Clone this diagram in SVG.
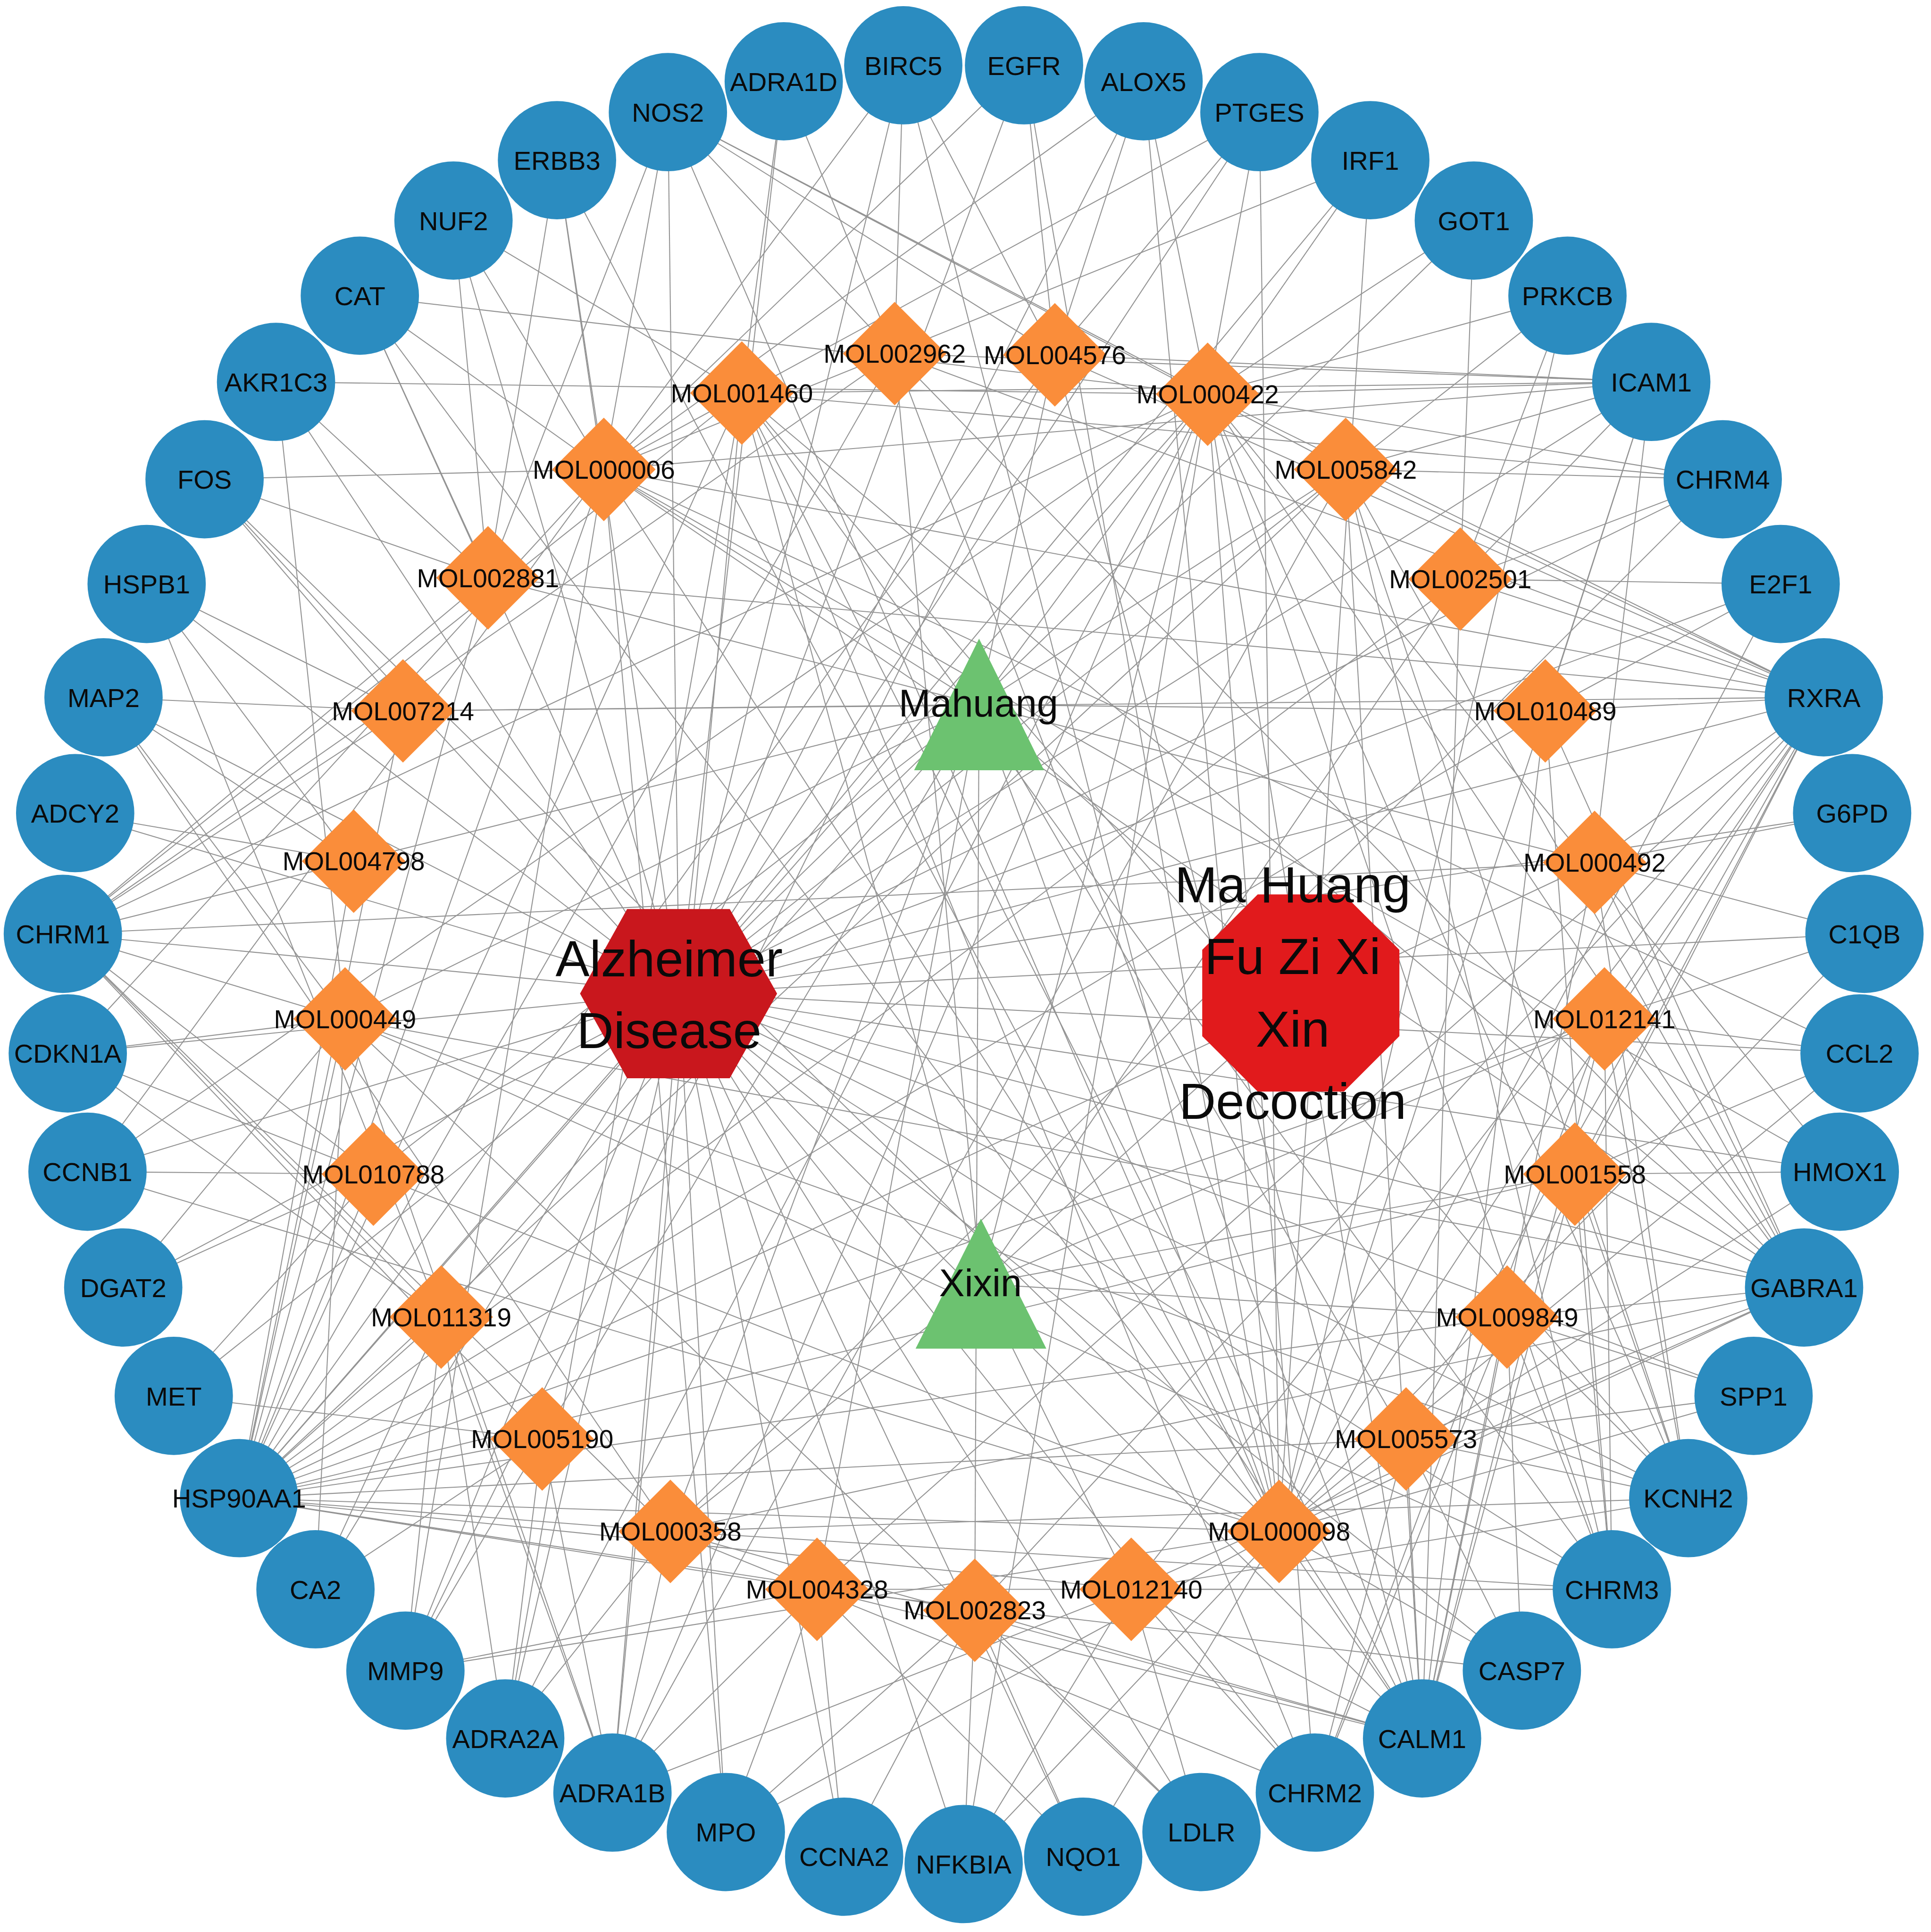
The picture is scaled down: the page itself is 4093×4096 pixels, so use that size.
<svg xmlns="http://www.w3.org/2000/svg" width="4093" height="4096" viewBox="0 0 4093 4096">
<style>
.e path{stroke:#939393;stroke-width:0.8;fill:none}
.t circle{fill:#2B8CC0}
.d polygon{fill:#FA8D3A}
.h polygon{fill:#6CC270}
text{font-family:"Liberation Sans",Arial,Helvetica,sans-serif;text-anchor:middle;fill:#0a0a0a}
.t text{font-size:21.5px}
.d text{font-size:21px}
.h text{font-size:31px}
.b text{font-size:41.5px}
</style>
<rect width="4093" height="4096" fill="#ffffff"/>
<g transform="scale(2.612)">
<g id="edges" class="e">
<path d="M551 806L782 1513"/><path d="M551 806L685 1507"/><path d="M551 806L589 1487"/><path d="M551 806L497 1455"/><path d="M551 806L410 1411"/><path d="M551 806L329 1356"/><path d="M551 806L256 1290"/><path d="M551 806L194 1216"/><path d="M551 806L141 1133"/><path d="M551 806L100 1045"/><path d="M551 806L71 951"/><path d="M551 806L55 855"/><path d="M551 806L51 758"/><path d="M551 806L61 660"/><path d="M551 806L84 566"/><path d="M551 806L119 474"/><path d="M551 806L166 389"/><path d="M551 806L224 310"/><path d="M551 806L292 240"/><path d="M551 806L368 179"/><path d="M551 806L452 130"/><path d="M551 806L542 91"/><path d="M551 806L636 66"/><path d="M551 806L733 53"/><path d="M551 806L831 53"/><path d="M551 806L928 66"/><path d="M551 806L1022 91"/><path d="M551 806L1112 130"/><path d="M551 806L1196 179"/><path d="M551 806L1272 240"/><path d="M551 806L1340 310"/><path d="M551 806L1398 389"/><path d="M551 806L1445 474"/><path d="M551 806L1480 566"/><path d="M551 806L1503 660"/><path d="M551 806L1513 758"/><path d="M551 806L1509 855"/><path d="M551 806L1493 951"/><path d="M551 806L1464 1045"/><path d="M551 806L1423 1133"/><path d="M551 806L1370 1216"/><path d="M551 806L1308 1290"/><path d="M551 806L1235 1356"/><path d="M551 806L1154 1411"/><path d="M551 806L1067 1455"/><path d="M551 806L975 1487"/><path d="M551 806L879 1507"/>
<path d="M1056 806L794.5 572"/><path d="M1056 806L796 1042"/>
<path d="M794.5 572L490 381"/><path d="M794.5 572L1038 1243"/><path d="M794.5 572L544 1243"/><path d="M794.5 572L980 320"/><path d="M794.5 572L280 827"/><path d="M794.5 572L1294 700"/><path d="M794.5 572L791 1307"/><path d="M794.5 572L396 469"/><path d="M794.5 572L663 1290"/><path d="M794.5 572L856 288"/><path d="M794.5 572L287 699"/><path d="M794.5 572L440 1168"/><path d="M794.5 572L1141 1168"/><path d="M794.5 572L1092 381"/><path d="M794.5 572L327 577"/><path d="M794.5 572L1254 577"/><path d="M794.5 572L303 953"/><path d="M794.5 572L358 1069"/>
<path d="M796 1042L602 319"/><path d="M796 1042L1278 953"/><path d="M796 1042L1185 470"/><path d="M796 1042L726 287"/><path d="M796 1042L1223 1069"/><path d="M796 1042L918 1290"/><path d="M796 1042L1302 827"/><path d="M796 1042L544 1243"/><path d="M796 1042L980 320"/>
<path d="M1038 1243L542 91"/><path d="M1038 1243L733 53"/><path d="M1038 1243L831 53"/><path d="M1038 1243L928 66"/><path d="M1038 1243L1022 91"/><path d="M1038 1243L1112 130"/><path d="M1038 1243L1272 240"/><path d="M1038 1243L1340 310"/><path d="M1038 1243L1445 474"/><path d="M1038 1243L1480 566"/><path d="M1038 1243L1513 758"/><path d="M1038 1243L1509 855"/><path d="M1038 1243L1493 951"/><path d="M1038 1243L1464 1045"/><path d="M1038 1243L1423 1133"/><path d="M1038 1243L1235 1356"/><path d="M1038 1243L1154 1411"/><path d="M1038 1243L879 1507"/><path d="M1038 1243L782 1513"/><path d="M1038 1243L589 1487"/><path d="M1038 1243L329 1356"/><path d="M1038 1243L194 1216"/><path d="M1038 1243L71 951"/><path d="M1038 1243L55 855"/><path d="M1038 1243L166 389"/><path d="M1038 1243L292 240"/><path d="M1038 1243L452 130"/>
<path d="M980 320L542 91"/><path d="M980 320L928 66"/><path d="M980 320L1196 179"/><path d="M980 320L1340 310"/><path d="M980 320L1480 566"/><path d="M980 320L1493 951"/><path d="M980 320L1464 1045"/><path d="M980 320L1154 1411"/><path d="M980 320L51 758"/><path d="M980 320L497 1455"/><path d="M980 320L194 1216"/><path d="M980 320L224 310"/><path d="M980 320L292 240"/><path d="M980 320L1272 240"/><path d="M980 320L782 1513"/>
<path d="M980 320L1067 1455"/><path d="M980 320L1308 1290"/><path d="M980 320L1398 389"/><path d="M980 320L410 1411"/><path d="M980 320L1370 1216"/><path d="M980 320L1022 91"/><path d="M980 320L1112 130"/><path d="M980 320L71 951"/>
<path d="M490 381L452 130"/><path d="M490 381L368 179"/><path d="M490 381L831 53"/><path d="M490 381L1340 310"/><path d="M490 381L1480 566"/><path d="M490 381L1509 855"/><path d="M490 381L1493 951"/><path d="M490 381L329 1356"/><path d="M490 381L194 1216"/><path d="M490 381L71 951"/><path d="M490 381L55 855"/><path d="M490 381L166 389"/><path d="M490 381L292 240"/><path d="M490 381L542 91"/><path d="M490 381L589 1487"/>
<path d="M490 381L733 53"/><path d="M490 381L928 66"/><path d="M490 381L1154 1411"/><path d="M490 381L1464 1045"/><path d="M490 381L1112 130"/><path d="M490 381L1022 91"/>
<path d="M544 1243L51 758"/><path d="M544 1243L1067 1455"/><path d="M544 1243L1308 1290"/><path d="M544 1243L1398 389"/><path d="M544 1243L497 1455"/><path d="M544 1243L410 1411"/><path d="M544 1243L1464 1045"/><path d="M544 1243L1370 1216"/><path d="M544 1243L84 566"/><path d="M544 1243L194 1216"/><path d="M544 1243L1154 1411"/>
<path d="M280 827L497 1455"/><path d="M280 827L1464 1045"/><path d="M280 827L84 566"/><path d="M280 827L975 1487"/><path d="M280 827L100 1045"/><path d="M280 827L224 310"/><path d="M280 827L194 1216"/><path d="M280 827L51 758"/><path d="M280 827L55 855"/><path d="M280 827L1308 1290"/><path d="M280 827L1370 1216"/><path d="M280 827L256 1290"/>
<path d="M287 699L194 1216"/><path d="M287 699L61 660"/><path d="M287 699L51 758"/><path d="M287 699L84 566"/><path d="M287 699L119 474"/>
<path d="M327 577L194 1216"/><path d="M327 577L1480 566"/><path d="M327 577L84 566"/><path d="M327 577L119 474"/><path d="M327 577L51 758"/><path d="M327 577L166 389"/>
<path d="M396 469L542 91"/><path d="M396 469L224 310"/><path d="M396 469L194 1216"/><path d="M396 469L1480 566"/><path d="M396 469L292 240"/><path d="M396 469L166 389"/><path d="M396 469L368 179"/><path d="M396 469L51 758"/><path d="M396 469L452 130"/>
<path d="M602 319L636 66"/><path d="M602 319L51 758"/><path d="M602 319L1067 1455"/><path d="M602 319L1308 1290"/><path d="M602 319L1398 389"/><path d="M602 319L497 1455"/><path d="M602 319L410 1411"/><path d="M602 319L1370 1216"/><path d="M602 319L1464 1045"/><path d="M602 319L1154 1411"/><path d="M602 319L194 1216"/><path d="M602 319L1340 310"/><path d="M602 319L368 179"/>
<path d="M726 287L733 53"/><path d="M726 287L1340 310"/><path d="M726 287L194 1216"/><path d="M726 287L1154 1411"/><path d="M726 287L51 758"/><path d="M726 287L636 66"/><path d="M726 287L542 91"/><path d="M726 287L1480 566"/><path d="M726 287L1464 1045"/>
<path d="M856 288L1340 310"/><path d="M856 288L194 1216"/><path d="M856 288L928 66"/><path d="M856 288L542 91"/><path d="M856 288L831 53"/><path d="M856 288L329 1356"/><path d="M856 288L1154 1411"/><path d="M856 288L1480 566"/><path d="M856 288L1022 91"/><path d="M856 288L733 53"/>
<path d="M1092 381L1340 310"/><path d="M1092 381L1398 389"/><path d="M1092 381L1480 566"/><path d="M1092 381L1154 1411"/><path d="M1092 381L194 1216"/><path d="M1092 381L1464 1045"/><path d="M1092 381L1370 1216"/><path d="M1092 381L1308 1290"/><path d="M1092 381L497 1455"/><path d="M1092 381L542 91"/>
<path d="M1185 470L1480 566"/><path d="M1185 470L1445 474"/><path d="M1185 470L1154 1411"/><path d="M1185 470L1196 179"/><path d="M1185 470L194 1216"/><path d="M1185 470L1340 310"/><path d="M1185 470L1398 389"/><path d="M1185 470L1272 240"/>
<path d="M1254 577L1480 566"/><path d="M1254 577L1154 1411"/><path d="M1254 577L1445 474"/><path d="M1254 577L194 1216"/><path d="M1254 577L1464 1045"/><path d="M1254 577L1308 1290"/><path d="M1254 577L1340 310"/>
<path d="M1294 700L1480 566"/><path d="M1294 700L194 1216"/><path d="M1294 700L1503 660"/><path d="M1294 700L1513 758"/><path d="M1294 700L51 758"/><path d="M1294 700L1464 1045"/><path d="M1294 700L1154 1411"/><path d="M1294 700L1340 310"/><path d="M1294 700L1370 1216"/>
<path d="M1302 827L1308 1290"/><path d="M1302 827L1370 1216"/><path d="M1302 827L1154 1411"/><path d="M1302 827L1480 566"/><path d="M1302 827L194 1216"/><path d="M1302 827L1464 1045"/><path d="M1302 827L1509 855"/><path d="M1302 827L1513 758"/><path d="M1302 827L1067 1455"/>
<path d="M1278 953L1480 566"/><path d="M1278 953L1154 1411"/><path d="M1278 953L194 1216"/><path d="M1278 953L1493 951"/><path d="M1278 953L1464 1045"/><path d="M1278 953L1370 1216"/><path d="M1278 953L1308 1290"/><path d="M1278 953L1509 855"/>
<path d="M1223 1069L1370 1216"/><path d="M1223 1069L1154 1411"/><path d="M1223 1069L1480 566"/><path d="M1223 1069L194 1216"/><path d="M1223 1069L1464 1045"/><path d="M1223 1069L1308 1290"/><path d="M1223 1069L1235 1356"/><path d="M1223 1069L1423 1133"/><path d="M1223 1069L1067 1455"/>
<path d="M1141 1168L1480 566"/><path d="M1141 1168L1154 1411"/><path d="M1141 1168L194 1216"/><path d="M1141 1168L1464 1045"/><path d="M1141 1168L1370 1216"/><path d="M1141 1168L1067 1455"/><path d="M1141 1168L1235 1356"/><path d="M1141 1168L1423 1133"/>
<path d="M918 1290L1067 1455"/><path d="M918 1290L1154 1411"/><path d="M918 1290L194 1216"/><path d="M918 1290L497 1455"/><path d="M918 1290L1464 1045"/><path d="M918 1290L1480 566"/><path d="M918 1290L975 1487"/><path d="M918 1290L1308 1290"/><path d="M918 1290L1370 1216"/><path d="M918 1290L782 1513"/>
<path d="M791 1307L194 1216"/><path d="M791 1307L1480 566"/><path d="M791 1307L1154 1411"/><path d="M791 1307L685 1507"/><path d="M791 1307L782 1513"/><path d="M791 1307L879 1507"/><path d="M791 1307L975 1487"/><path d="M791 1307L589 1487"/>
<path d="M663 1290L194 1216"/><path d="M663 1290L1480 566"/><path d="M663 1290L497 1455"/><path d="M663 1290L685 1507"/><path d="M663 1290L1308 1290"/><path d="M663 1290L1154 1411"/><path d="M663 1290L879 1507"/><path d="M663 1290L329 1356"/><path d="M663 1290L589 1487"/><path d="M663 1290L1235 1356"/>
<path d="M440 1168L194 1216"/><path d="M440 1168L497 1455"/><path d="M440 1168L256 1290"/><path d="M440 1168L141 1133"/><path d="M440 1168L51 758"/><path d="M440 1168L410 1411"/><path d="M440 1168L329 1356"/>
<path d="M358 1069L194 1216"/><path d="M358 1069L51 758"/><path d="M358 1069L410 1411"/><path d="M358 1069L256 1290"/><path d="M358 1069L119 474"/><path d="M358 1069L329 1356"/><path d="M358 1069L55 855"/><path d="M358 1069L497 1455"/>
<path d="M303 953L194 1216"/><path d="M303 953L100 1045"/><path d="M303 953L71 951"/><path d="M303 953L141 1133"/><path d="M303 953L51 758"/>
</g>
<g id="nodes">
<g id="t-NFKBIA" class="t" transform="translate(782,1513)"><circle r="48"/><text y="7.7">NFKBIA</text></g>
<g id="t-CCNA2" class="t" transform="translate(685,1507)"><circle r="48"/><text y="7.7">CCNA2</text></g>
<g id="t-MPO" class="t" transform="translate(589,1487)"><circle r="48"/><text y="7.7">MPO</text></g>
<g id="t-ADRA1B" class="t" transform="translate(497,1455)"><circle r="48"/><text y="7.7">ADRA1B</text></g>
<g id="t-ADRA2A" class="t" transform="translate(410,1411)"><circle r="48"/><text y="7.7">ADRA2A</text></g>
<g id="t-MMP9" class="t" transform="translate(329,1356)"><circle r="48"/><text y="7.7">MMP9</text></g>
<g id="t-CA2" class="t" transform="translate(256,1290)"><circle r="48"/><text y="7.7">CA2</text></g>
<g id="t-HSP90AA1" class="t" transform="translate(194,1216)"><circle r="48"/><text y="7.7">HSP90AA1</text></g>
<g id="t-MET" class="t" transform="translate(141,1133)"><circle r="48"/><text y="7.7">MET</text></g>
<g id="t-DGAT2" class="t" transform="translate(100,1045)"><circle r="48"/><text y="7.7">DGAT2</text></g>
<g id="t-CCNB1" class="t" transform="translate(71,951)"><circle r="48"/><text y="7.7">CCNB1</text></g>
<g id="t-CDKN1A" class="t" transform="translate(55,855)"><circle r="48"/><text y="7.7">CDKN1A</text></g>
<g id="t-CHRM1" class="t" transform="translate(51,758)"><circle r="48"/><text y="7.7">CHRM1</text></g>
<g id="t-ADCY2" class="t" transform="translate(61,660)"><circle r="48"/><text y="7.7">ADCY2</text></g>
<g id="t-MAP2" class="t" transform="translate(84,566)"><circle r="48"/><text y="7.7">MAP2</text></g>
<g id="t-HSPB1" class="t" transform="translate(119,474)"><circle r="48"/><text y="7.7">HSPB1</text></g>
<g id="t-FOS" class="t" transform="translate(166,389)"><circle r="48"/><text y="7.7">FOS</text></g>
<g id="t-AKR1C3" class="t" transform="translate(224,310)"><circle r="48"/><text y="7.7">AKR1C3</text></g>
<g id="t-CAT" class="t" transform="translate(292,240)"><circle r="48"/><text y="7.7">CAT</text></g>
<g id="t-NUF2" class="t" transform="translate(368,179)"><circle r="48"/><text y="7.7">NUF2</text></g>
<g id="t-ERBB3" class="t" transform="translate(452,130)"><circle r="48"/><text y="7.7">ERBB3</text></g>
<g id="t-NOS2" class="t" transform="translate(542,91)"><circle r="48"/><text y="7.7">NOS2</text></g>
<g id="t-ADRA1D" class="t" transform="translate(636,66)"><circle r="48"/><text y="7.7">ADRA1D</text></g>
<g id="t-BIRC5" class="t" transform="translate(733,53)"><circle r="48"/><text y="7.7">BIRC5</text></g>
<g id="t-EGFR" class="t" transform="translate(831,53)"><circle r="48"/><text y="7.7">EGFR</text></g>
<g id="t-ALOX5" class="t" transform="translate(928,66)"><circle r="48"/><text y="7.7">ALOX5</text></g>
<g id="t-PTGES" class="t" transform="translate(1022,91)"><circle r="48"/><text y="7.7">PTGES</text></g>
<g id="t-IRF1" class="t" transform="translate(1112,130)"><circle r="48"/><text y="7.7">IRF1</text></g>
<g id="t-GOT1" class="t" transform="translate(1196,179)"><circle r="48"/><text y="7.7">GOT1</text></g>
<g id="t-PRKCB" class="t" transform="translate(1272,240)"><circle r="48"/><text y="7.7">PRKCB</text></g>
<g id="t-ICAM1" class="t" transform="translate(1340,310)"><circle r="48"/><text y="7.7">ICAM1</text></g>
<g id="t-CHRM4" class="t" transform="translate(1398,389)"><circle r="48"/><text y="7.7">CHRM4</text></g>
<g id="t-E2F1" class="t" transform="translate(1445,474)"><circle r="48"/><text y="7.7">E2F1</text></g>
<g id="t-RXRA" class="t" transform="translate(1480,566)"><circle r="48"/><text y="7.7">RXRA</text></g>
<g id="t-G6PD" class="t" transform="translate(1503,660)"><circle r="48"/><text y="7.7">G6PD</text></g>
<g id="t-C1QB" class="t" transform="translate(1513,758)"><circle r="48"/><text y="7.7">C1QB</text></g>
<g id="t-CCL2" class="t" transform="translate(1509,855)"><circle r="48"/><text y="7.7">CCL2</text></g>
<g id="t-HMOX1" class="t" transform="translate(1493,951)"><circle r="48"/><text y="7.7">HMOX1</text></g>
<g id="t-GABRA1" class="t" transform="translate(1464,1045)"><circle r="48"/><text y="7.7">GABRA1</text></g>
<g id="t-SPP1" class="t" transform="translate(1423,1133)"><circle r="48"/><text y="7.7">SPP1</text></g>
<g id="t-KCNH2" class="t" transform="translate(1370,1216)"><circle r="48"/><text y="7.7">KCNH2</text></g>
<g id="t-CHRM3" class="t" transform="translate(1308,1290)"><circle r="48"/><text y="7.7">CHRM3</text></g>
<g id="t-CASP7" class="t" transform="translate(1235,1356)"><circle r="48"/><text y="7.7">CASP7</text></g>
<g id="t-CALM1" class="t" transform="translate(1154,1411)"><circle r="48"/><text y="7.7">CALM1</text></g>
<g id="t-CHRM2" class="t" transform="translate(1067,1455)"><circle r="48"/><text y="7.7">CHRM2</text></g>
<g id="t-LDLR" class="t" transform="translate(975,1487)"><circle r="48"/><text y="7.7">LDLR</text></g>
<g id="t-NQO1" class="t" transform="translate(879,1507)"><circle r="48"/><text y="7.7">NQO1</text></g>

<g id="m-MOL001460" class="d" transform="translate(602,319)"><polygon points="0,-42 42,0 0,42 -42,0"/><text y="7.5">MOL001460</text></g>
<g id="m-MOL002962" class="d" transform="translate(726,287)"><polygon points="0,-42 42,0 0,42 -42,0"/><text y="7.5">MOL002962</text></g>
<g id="m-MOL004576" class="d" transform="translate(856,288)"><polygon points="0,-42 42,0 0,42 -42,0"/><text y="7.5">MOL004576</text></g>
<g id="m-MOL000422" class="d" transform="translate(980,320)"><polygon points="0,-42 42,0 0,42 -42,0"/><text y="7.5">MOL000422</text></g>
<g id="m-MOL000006" class="d" transform="translate(490,381)"><polygon points="0,-42 42,0 0,42 -42,0"/><text y="7.5">MOL000006</text></g>
<g id="m-MOL005842" class="d" transform="translate(1092,381)"><polygon points="0,-42 42,0 0,42 -42,0"/><text y="7.5">MOL005842</text></g>
<g id="m-MOL002881" class="d" transform="translate(396,469)"><polygon points="0,-42 42,0 0,42 -42,0"/><text y="7.5">MOL002881</text></g>
<g id="m-MOL002501" class="d" transform="translate(1185,470)"><polygon points="0,-42 42,0 0,42 -42,0"/><text y="7.5">MOL002501</text></g>
<g id="m-MOL007214" class="d" transform="translate(327,577)"><polygon points="0,-42 42,0 0,42 -42,0"/><text y="7.5">MOL007214</text></g>
<g id="m-MOL010489" class="d" transform="translate(1254,577)"><polygon points="0,-42 42,0 0,42 -42,0"/><text y="7.5">MOL010489</text></g>
<g id="m-MOL004798" class="d" transform="translate(287,699)"><polygon points="0,-42 42,0 0,42 -42,0"/><text y="7.5">MOL004798</text></g>
<g id="m-MOL000492" class="d" transform="translate(1294,700)"><polygon points="0,-42 42,0 0,42 -42,0"/><text y="7.5">MOL000492</text></g>
<g id="m-MOL000449" class="d" transform="translate(280,827)"><polygon points="0,-42 42,0 0,42 -42,0"/><text y="7.5">MOL000449</text></g>
<g id="m-MOL012141" class="d" transform="translate(1302,827)"><polygon points="0,-42 42,0 0,42 -42,0"/><text y="7.5">MOL012141</text></g>
<g id="m-MOL010788" class="d" transform="translate(303,953)"><polygon points="0,-42 42,0 0,42 -42,0"/><text y="7.5">MOL010788</text></g>
<g id="m-MOL001558" class="d" transform="translate(1278,953)"><polygon points="0,-42 42,0 0,42 -42,0"/><text y="7.5">MOL001558</text></g>
<g id="m-MOL011319" class="d" transform="translate(358,1069)"><polygon points="0,-42 42,0 0,42 -42,0"/><text y="7.5">MOL011319</text></g>
<g id="m-MOL009849" class="d" transform="translate(1223,1069)"><polygon points="0,-42 42,0 0,42 -42,0"/><text y="7.5">MOL009849</text></g>
<g id="m-MOL005190" class="d" transform="translate(440,1168)"><polygon points="0,-42 42,0 0,42 -42,0"/><text y="7.5">MOL005190</text></g>
<g id="m-MOL005573" class="d" transform="translate(1141,1168)"><polygon points="0,-42 42,0 0,42 -42,0"/><text y="7.5">MOL005573</text></g>
<g id="m-MOL000358" class="d" transform="translate(544,1243)"><polygon points="0,-42 42,0 0,42 -42,0"/><text y="7.5">MOL000358</text></g>
<g id="m-MOL000098" class="d" transform="translate(1038,1243)"><polygon points="0,-42 42,0 0,42 -42,0"/><text y="7.5">MOL000098</text></g>
<g id="m-MOL004328" class="d" transform="translate(663,1290)"><polygon points="0,-42 42,0 0,42 -42,0"/><text y="7.5">MOL004328</text></g>
<g id="m-MOL002823" class="d" transform="translate(791,1307)"><polygon points="0,-42 42,0 0,42 -42,0"/><text y="7.5">MOL002823</text></g>
<g id="m-MOL012140" class="d" transform="translate(918,1290)"><polygon points="0,-42 42,0 0,42 -42,0"/><text y="7.5">MOL012140</text></g>

<g id="h-Mahuang" class="h"><polygon points="794.5,518.4 847.2,625.2 741.8,625.2"/><text x="794" y="581.5">Mahuang</text></g>
<g id="h-Xixin" class="h"><polygon points="796,989.2 849.1,1094.7 743,1094.7"/><text x="795.7" y="1052">Xixin</text></g>
<g id="alzheimer" class="b"><polygon fill="#C9171D" points="470.7,806.5 508.9,737.8 592.2,737.8 630.6,806.5 592.2,875.2 508.9,875.2"/><text x="543" y="792.5">Alzheimer</text><text x="543" y="850.8">Disease</text></g>
<g id="decoction" class="b"><polygon fill="#E11A1C" points="1020.6,726 1090.6,726 1135.6,771 1135.6,841 1090.6,886 1020.6,886 975.6,841 975.6,771"/><text x="1049" y="732.3">Ma Huang</text><text x="1049" y="790.4">Fu Zi Xi</text><text x="1049" y="849.7">Xin</text><text x="1049" y="908.2">Decoction</text></g>
</g>
</g>
</svg>
